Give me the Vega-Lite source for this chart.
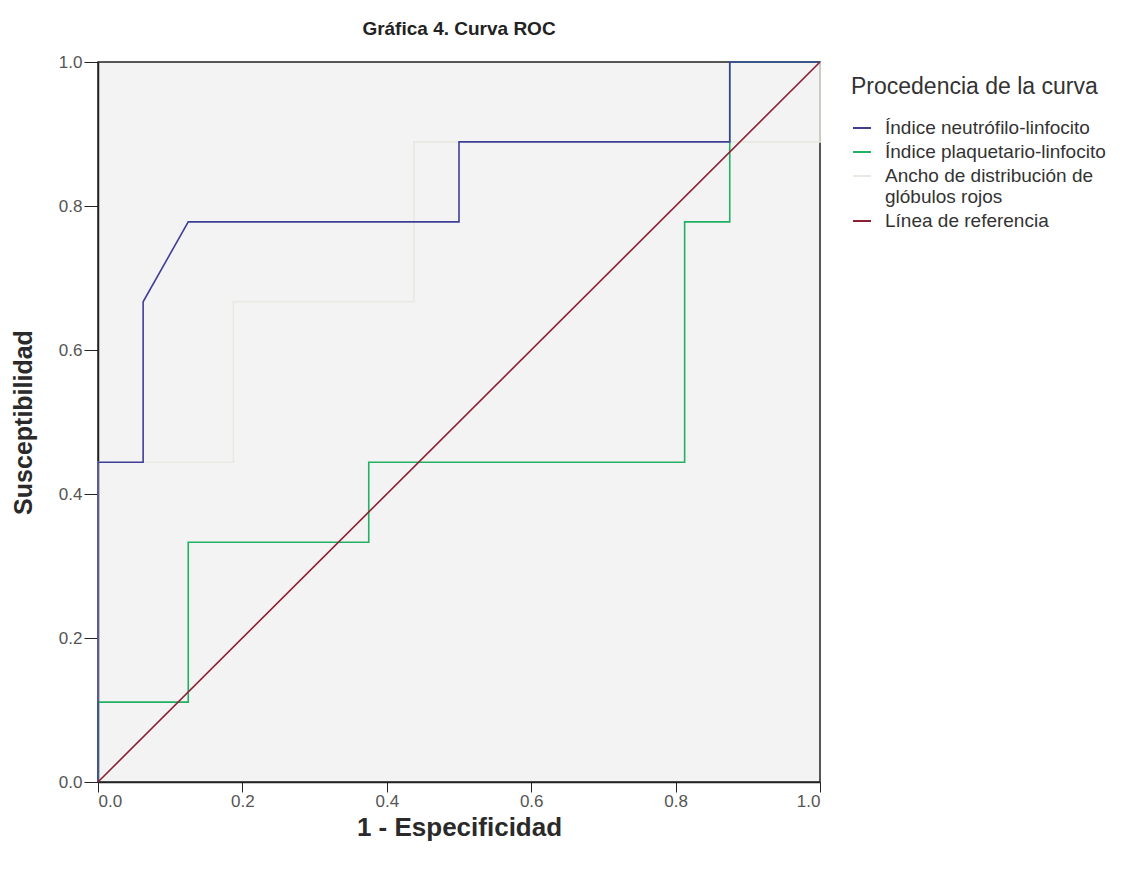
{
  "$schema": "https://vega.github.io/schema/vega-lite/v6.json",
  "width": 722,
  "height": 720,
  "autosize": {"type": "none"},
  "padding": {"left": 98, "top": 62, "right": 311, "bottom": 87},
  "background": "white",
  "title": {
    "text": "Gráfica 4. Curva ROC",
    "font": "Liberation Sans",
    "fontSize": 19,
    "fontWeight": "bold",
    "color": "#222222",
    "anchor": "middle",
    "offset": 14
  },
  "config": {
    "view": {"stroke": "#222222", "strokeWidth": 1.5, "fill": "#f3f3f3"},
    "font": "Liberation Sans"
  },
  "data": {
    "values": [
      {"serie": "Ancho de distribución de glóbulos rojos", "o": 1, "x": 0, "y": 0},
      {"serie": "Ancho de distribución de glóbulos rojos", "o": 2, "x": 0, "y": 0.444},
      {"serie": "Ancho de distribución de glóbulos rojos", "o": 3, "x": 0.1875, "y": 0.444},
      {"serie": "Ancho de distribución de glóbulos rojos", "o": 4, "x": 0.1875, "y": 0.667},
      {"serie": "Ancho de distribución de glóbulos rojos", "o": 5, "x": 0.4375, "y": 0.667},
      {"serie": "Ancho de distribución de glóbulos rojos", "o": 6, "x": 0.4375, "y": 0.889},
      {"serie": "Ancho de distribución de glóbulos rojos", "o": 7, "x": 1.0, "y": 0.889},
      {"serie": "Ancho de distribución de glóbulos rojos", "o": 8, "x": 1.0, "y": 1.0},
      {"serie": "Índice plaquetario-linfocito", "o": 1, "x": 0, "y": 0},
      {"serie": "Índice plaquetario-linfocito", "o": 2, "x": 0, "y": 0.111},
      {"serie": "Índice plaquetario-linfocito", "o": 3, "x": 0.125, "y": 0.111},
      {"serie": "Índice plaquetario-linfocito", "o": 4, "x": 0.125, "y": 0.333},
      {"serie": "Índice plaquetario-linfocito", "o": 5, "x": 0.375, "y": 0.333},
      {"serie": "Índice plaquetario-linfocito", "o": 6, "x": 0.375, "y": 0.444},
      {"serie": "Índice plaquetario-linfocito", "o": 7, "x": 0.8125, "y": 0.444},
      {"serie": "Índice plaquetario-linfocito", "o": 8, "x": 0.8125, "y": 0.778},
      {"serie": "Índice plaquetario-linfocito", "o": 9, "x": 0.875, "y": 0.778},
      {"serie": "Índice plaquetario-linfocito", "o": 10, "x": 0.875, "y": 1.0},
      {"serie": "Índice plaquetario-linfocito", "o": 11, "x": 1.0, "y": 1.0},
      {"serie": "Índice neutrófilo-linfocito", "o": 1, "x": 0, "y": 0},
      {"serie": "Índice neutrófilo-linfocito", "o": 2, "x": 0, "y": 0.444},
      {"serie": "Índice neutrófilo-linfocito", "o": 3, "x": 0.0625, "y": 0.444},
      {"serie": "Índice neutrófilo-linfocito", "o": 4, "x": 0.0625, "y": 0.667},
      {"serie": "Índice neutrófilo-linfocito", "o": 5, "x": 0.125, "y": 0.778},
      {"serie": "Índice neutrófilo-linfocito", "o": 6, "x": 0.5, "y": 0.778},
      {"serie": "Índice neutrófilo-linfocito", "o": 7, "x": 0.5, "y": 0.889},
      {"serie": "Índice neutrófilo-linfocito", "o": 8, "x": 0.875, "y": 0.889},
      {"serie": "Índice neutrófilo-linfocito", "o": 9, "x": 0.875, "y": 1.0},
      {"serie": "Índice neutrófilo-linfocito", "o": 10, "x": 1.0, "y": 1.0},
      {"serie": "Línea de referencia", "o": 1, "x": 0, "y": 0},
      {"serie": "Línea de referencia", "o": 2, "x": 1, "y": 1}
    ]
  },
  "mark": {"type": "line", "strokeWidth": 1.6, "interpolate": "linear"},
  "encoding": {
    "x": {
      "field": "x",
      "type": "quantitative",
      "scale": {"domain": [0, 1], "nice": false, "zero": false},
      "axis": {
        "title": "1 - Especificidad",
        "titleFont": "Liberation Sans",
        "titleFontSize": 26,
        "titleFontWeight": "bold",
        "titleColor": "#2a2a2a",
        "titlePadding": 5,
        "values": [0, 0.2, 0.4, 0.6, 0.8, 1.0],
        "format": ".1f",
        "labelFontSize": 17,
        "labelColor": "#555555",
        "labelPadding": 1,
        "tickSize": 10,
        "tickColor": "#222222",
        "domainColor": "#222222",
        "domainWidth": 1.5,
        "grid": false
      }
    },
    "y": {
      "field": "y",
      "type": "quantitative",
      "scale": {"domain": [0, 1], "nice": false, "zero": false},
      "axis": {
        "title": "Susceptibilidad",
        "titleFont": "Liberation Sans",
        "titleFontSize": 25,
        "titleFontWeight": "bold",
        "titleColor": "#2a2a2a",
        "titlePadding": 22,
        "values": [0, 0.2, 0.4, 0.6, 0.8, 1.0],
        "format": ".1f",
        "labelFontSize": 17,
        "labelColor": "#555555",
        "labelPadding": 2,
        "tickSize": 14,
        "tickColor": "#222222",
        "domainColor": "#222222",
        "domainWidth": 1.5,
        "grid": false
      }
    },
    "order": {"field": "o", "type": "quantitative"},
    "color": {
      "field": "serie",
      "type": "nominal",
      "scale": {
        "domain": ["Índice neutrófilo-linfocito", "Índice plaquetario-linfocito", "Ancho de distribución de glóbulos rojos", "Línea de referencia"],
        "range": ["#3f3f96", "#22b062", "#e9e9e1", "#8b1f33"]
      },
      "legend": {
        "title": "Procedencia de la curva",
        "titleFont": "Liberation Sans",
        "titleFontSize": 23,
        "titleFontWeight": "normal",
        "titleColor": "#333333",
        "titlePadding": 18,
        "titleLimit": 400,
        "orient": "none",
        "legendX": 753,
        "legendY": 14,
        "symbolType": "M-0.9,0H0.9",
        "symbolSize": 400,
        "symbolStrokeWidth": 2,
        "symbolFillColor": "transparent",
        "labelFontSize": 19,
        "labelColor": "#333333",
        "labelLimit": 300,
        "rowPadding": 3,
        "labelOffset": 12,
        "labelExpr": "datum.label == 'Ancho de distribución de glóbulos rojos' ? ['Ancho de distribución de', 'glóbulos rojos'] : datum.label"
      }
    }
  }
}
